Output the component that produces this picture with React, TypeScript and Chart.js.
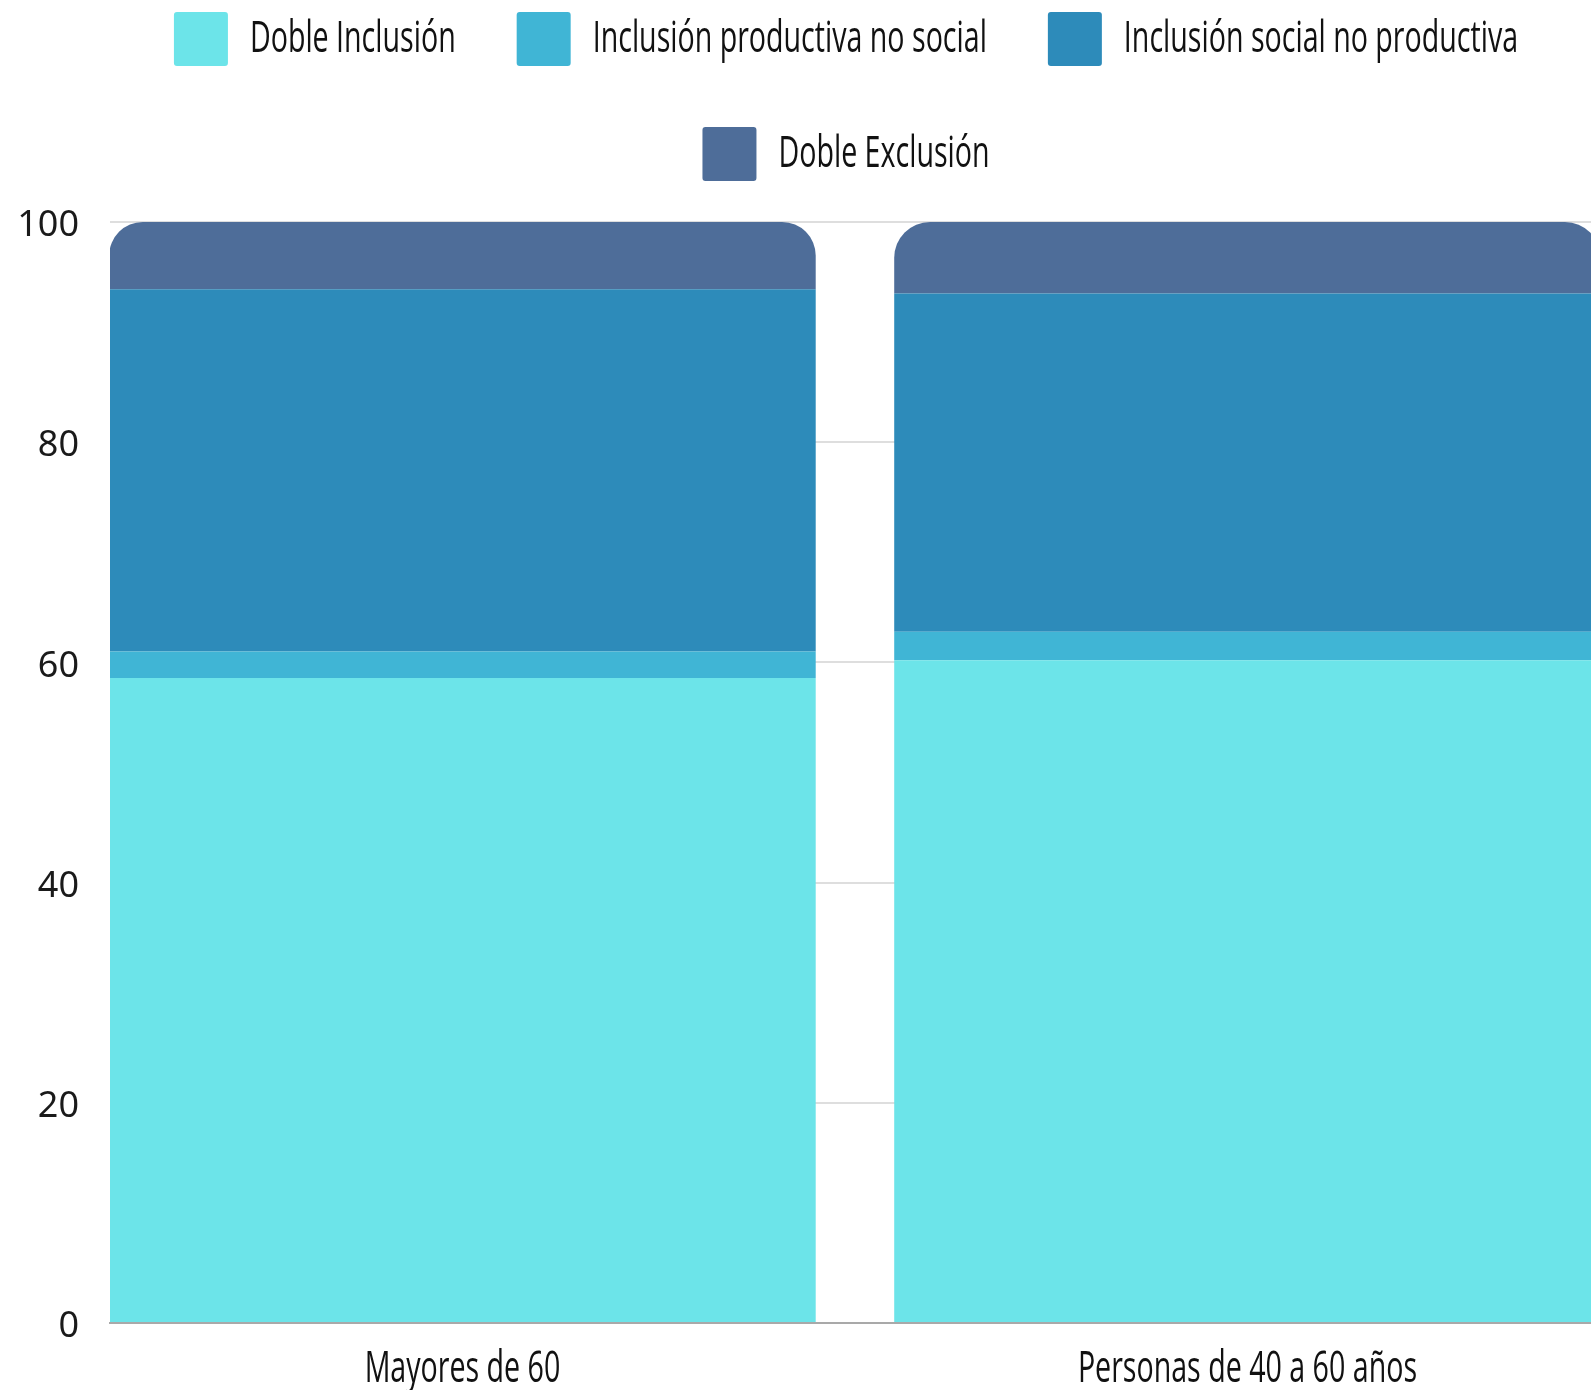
import React, { useEffect, useRef } from 'react';
import { Chart, registerables } from 'chart.js';

Chart.register(...registerables);

// ---- Data ----
const categories = ['Mayores de 60', 'Personas de 40 a 60 años'];
const seriesNames = [
  'Doble Inclusión',
  'Inclusión productiva no social',
  'Inclusión social no productiva',
  'Doble Exclusión',
];
const dobleInclusion = [58.6, 60.2];
const inclusionProductiva = [2.4, 2.6];
const inclusionSocial = [32.9, 30.7];
const dobleExclusion = [6.1, 6.5];
const yTickValues = [0, 20, 40, 60, 80, 100];

const seriesValues = [dobleInclusion, inclusionProductiva, inclusionSocial, dobleExclusion];
const seriesColors = ['#6ce4e9', '#40b5d5', '#2d8bba', '#4e6d99'];

// condensed look: text in this family is drawn horizontally narrowed
const CONDENSED = "'Open Sans', sans-serif";
const CONDENSE_K = 0.65;

const CANVAS_W = 1692;
const CANVAS_H = 1465;
const CANVAS_TOP = -49;
const LEGEND_H = 271;

const legendHeightPlugin = {
  id: 'legendHeight',
  beforeInit(chart: any) {
    const legend = chart.legend;
    if (!legend) return;
    const orig = legend.fit;
    legend.fit = function () {
      orig.call(this);
      this.height = LEGEND_H;
    };
  },
};

function condenseContext(ctx: any) {
  if (ctx.__condensed) return;
  ctx.__condensed = true;
  const origFill = ctx.fillText.bind(ctx);
  const origMeasure = ctx.measureText.bind(ctx);
  const isCond = () => String(ctx.font).indexOf('Open Sans') >= 0;
  ctx.fillText = (text: string, x: number, y: number, maxWidth?: number) => {
    if (!isCond()) {
      if (maxWidth === undefined) origFill(text, x, y);
      else origFill(text, x, y, maxWidth);
      return;
    }
    ctx.save();
    ctx.translate(x, y);
    ctx.scale(CONDENSE_K, 1);
    if (maxWidth === undefined) origFill(text, 0, 0);
    else origFill(text, 0, 0, maxWidth / CONDENSE_K);
    ctx.restore();
  };
  ctx.measureText = (text: string) => {
    const m = origMeasure(text);
    if (!isCond()) return m;
    return {
      width: m.width * CONDENSE_K,
      actualBoundingBoxLeft: m.actualBoundingBoxLeft * CONDENSE_K,
      actualBoundingBoxRight: m.actualBoundingBoxRight * CONDENSE_K,
      actualBoundingBoxAscent: m.actualBoundingBoxAscent,
      actualBoundingBoxDescent: m.actualBoundingBoxDescent,
      fontBoundingBoxAscent: m.fontBoundingBoxAscent,
      fontBoundingBoxDescent: m.fontBoundingBoxDescent,
    };
  };
}

export default function App() {
  const ref = useRef<HTMLCanvasElement | null>(null);

  useEffect(() => {
    if (!ref.current) return;
    const ctx = ref.current.getContext('2d');
    if (ctx) condenseContext(ctx);

    const datasets = seriesNames.map((name, si) => ({
      label: name,
      data: seriesValues[si].map((v, i) => ({ x: i, y: v })),
      backgroundColor: seriesColors[si],
      borderWidth: 0,
      borderRadius:
        si === seriesNames.length - 1
          ? { topLeft: 60, topRight: 60, bottomLeft: 0, bottomRight: 0 }
          : 0,
      categoryPercentage: 1,
      barPercentage: 0.9,
    }));

    const chart = new Chart(ref.current, {
      type: 'bar',
      data: { datasets },
      plugins: [legendHeightPlugin],
      options: {
        animation: false,
        responsive: false,
        events: [],
        layout: { padding: { left: 0, right: 0, top: 0, bottom: 0 } },
        plugins: {
          legend: {
            position: 'top',
            align: 'center',
            labels: {
              boxWidth: 54,
              boxHeight: 54,
              padding: 61,
              color: '#111111',
              useBorderRadius: true,
              borderRadius: 3,
              font: { family: CONDENSED, size: 44 },
            },
          },
          tooltip: { enabled: false },
        },
        scales: {
          x: {
            type: 'linear',
            stacked: true,
            offset: false,
            min: -0.449,
            max: 1.5663,
            afterBuildTicks(scale: any) {
              scale.ticks = categories.map((_, i) => ({ value: i }));
            },
            ticks: {
              autoSkip: false,
              maxRotation: 0,
              padding: 20,
              color: '#111111',
              font: { family: CONDENSED, size: 44 },
              callback: (v: any) => categories[Math.round(Number(v))] ?? '',
            },
            grid: { display: false, drawTicks: false, offset: false },
            border: { display: true, color: '#a9a9a9', width: 2, z: 1 },
          },
          y: {
            stacked: true,
            min: 0,
            max: 100,
            afterFit(scale: any) {
              scale.width = 110;
            },
            afterBuildTicks(scale: any) {
              scale.ticks = yTickValues.map((v) => ({ value: v }));
            },
            ticks: {
              padding: 31,
              labelOffset: 4,
              color: '#1a1a1a',
              font: { family: "'Noto Sans', sans-serif", size: 36 },
            },
            grid: { color: '#dedede', lineWidth: 2, drawTicks: false },
            border: { display: false },
          },
        },
      } as any,
    });
    return () => chart.destroy();
  }, []);

  return (
    <div
      style={{
        position: 'fixed',
        left: 0,
        top: 0,
        width: '100vw',
        height: '100vh',
        overflow: 'hidden',
        background: '#ffffff',
      }}
    >
      <canvas
        ref={ref}
        width={CANVAS_W}
        height={CANVAS_H}
        style={{
          position: 'absolute',
          left: 0,
          top: CANVAS_TOP,
          width: CANVAS_W,
          height: CANVAS_H,
        }}
      />
    </div>
  );
}
